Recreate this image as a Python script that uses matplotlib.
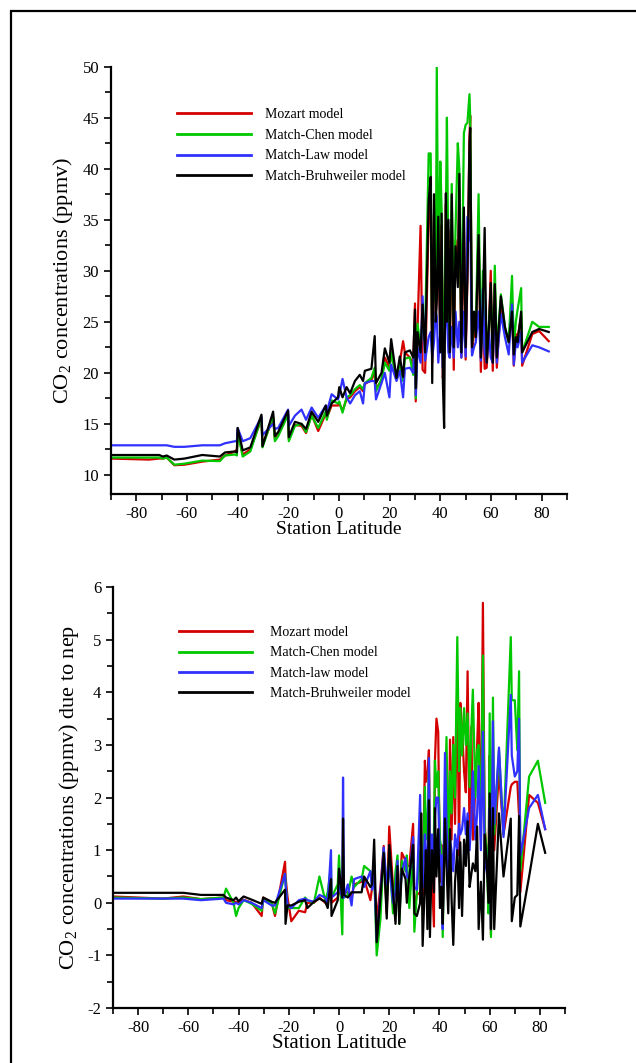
import matplotlib
matplotlib.use("Agg")
import matplotlib.pyplot as plt
import matplotlib.patches as patches
from matplotlib.ticker import MultipleLocator

plt.rcParams['font.family'] = ['Liberation Serif', 'DejaVu Serif']
plt.rcParams['mathtext.fontset'] = 'custom'
plt.rcParams['mathtext.rm'] = 'Liberation Serif'
plt.rcParams['axes.unicode_minus'] = False

# ---------------- top panel: total CO2 ----------------
lat_top = [-90, -75, -71, -69.5, -68, -65, -61, -54, -47, -45, -41, -40.3, -40, -38, -35,
           -30.6, -30.2, -26, -25.3, -24, -20.1, -19.8, -17.4, -14.8, -13, -10.8, -8.2, -5.2, -4.8,
           -2.9, -0.4, 0.1, 1.4, 3, 4.4, 6.3, 8.2, 9.5, 10.2, 12.8, 14.1, 14.6, 16.8, 18.1, 19.9,
           20.6, 22.7, 24.0, 25.3, 26.0, 28.0, 29.3, 30.0, 30.3, 31.0, 32.2, 33.0, 34.0, 35.4,
           36.2, 36.8, 37.5, 38.2, 38.6, 39.2, 40.0, 40.5, 41.0, 41.5, 42.2, 42.6, 43.2, 43.7,
           44.5, 45.3, 46.0, 46.9, 47.5, 48.3, 49.3, 50.0, 50.7, 51.5, 51.8, 52.5, 53.3, 54.0,
           55.1, 56.0, 56.8, 57.5, 58.3, 59.2, 59.9, 60.7, 61.5, 62.3, 63.9, 65.5, 67.0, 68.3,
           69.0, 69.8, 70.5, 71.9, 72.3, 76.3, 79.0, 82.8]

mozart_top = [11.6, 11.5, 11.6, 11.6, 11.7, 10.95, 11.0, 11.3, 11.5, 11.9, 12.3, 12.5, 14.4, 12.0, 12.5,
              15.5, 12.9, 15.6, 13.5, 13.9, 16.0, 13.5, 14.9, 14.8, 14.1, 15.9, 14.3, 16.0, 15.6,
              16.8, 16.8, 17.0, 16.3, 17.4, 17.6, 18.2, 18.6, 18.2, 18.9, 19.3, 20.0, 18.5, 19.2, 21.5, 20.5,
              22.0, 19.6, 21.0, 23.1, 22.0, 21.5, 20.8, 26.8, 17.2, 24.2, 34.4, 20.3, 20.0, 35.0,
              37.0, 21.0, 35.5, 25.5, 28.0, 33.0, 23.5, 34.5, 19.5, 21.5, 36.5, 27.0, 34.0, 21.5,
              35.0, 20.3, 33.0, 30.0, 38.0, 21.5, 35.0, 21.3, 29.3, 43.0, 45.2, 22.0, 24.0, 23.5,
              34.0, 20.1, 27.0, 20.4, 20.5, 24.5, 30.0, 20.2, 28.5, 20.5, 27.0, 24.0, 23.5, 26.0,
              20.7, 23.8, 23.5, 25.5, 20.7, 23.8, 24.1, 23.1]

chen_top = [11.7, 11.7, 11.7, 11.6, 11.7, 11.0, 11.1, 11.4, 11.35, 11.9, 12.0, 11.9, 14.2, 11.8, 12.3,
            15.6, 12.7, 15.8, 13.3, 13.8, 15.9, 13.3, 14.8, 15.0, 14.2, 15.8, 14.6, 16.2, 15.4,
            17.3, 17.0, 17.2, 16.1, 17.6, 17.8, 18.4, 18.8, 18.4, 19.0, 19.5, 20.5, 18.2, 19.4, 21.0, 20.2,
            22.0, 19.4, 21.0, 19.2, 21.4, 21.5, 19.8, 24.5, 17.5, 24.8, 22.5, 25.0, 24.0, 41.5,
            41.5, 22.0, 32.0, 27.0, 50.0, 30.0, 40.7, 36.0, 23.0, 22.0, 35.8, 45.0, 30.0, 23.0,
            38.5, 25.0, 34.0, 42.5, 40.0, 23.0, 43.5, 44.3, 44.5, 47.3, 45.0, 23.0, 25.0, 24.0,
            37.5, 22.0, 30.0, 22.5, 22.0, 25.0, 27.5, 22.0, 30.5, 22.0, 27.7, 24.5, 23.0, 29.5,
            22.5, 25.0, 26.2, 28.3, 22.0, 25.0, 24.5, 24.5]

law_top = [12.9, 12.9, 12.9, 12.9, 12.9, 12.75, 12.75, 12.9, 12.9, 13.1, 13.3, 13.3, 14.6, 13.3, 13.6,
           15.7, 13.9, 15.0, 14.5, 14.6, 16.4, 14.8, 15.8, 16.4, 15.4, 16.6, 15.6, 16.8, 16.2,
           17.9, 17.4, 17.8, 19.4, 17.6, 17.0, 17.8, 18.2, 17.0, 19.0, 19.2, 19.2, 17.4, 19.0, 20.0, 17.6,
           20.8, 19.2, 20.2, 17.6, 20.4, 20.5, 20.0, 24.0, 17.8, 22.5, 21.0, 27.5, 21.2, 23.5,
           24.0, 21.5, 23.0, 26.0, 25.5, 21.0, 24.0, 23.5, 20.5, 22.0, 27.0, 25.5, 22.0, 21.5,
           24.5, 21.5, 26.0, 22.5, 25.0, 21.5, 26.0, 21.6, 35.3, 33.0, 35.0, 21.7, 22.5, 23.0,
           26.0, 21.2, 28.2, 22.0, 21.0, 24.0, 21.5, 21.0, 27.0, 21.0, 25.8, 23.5, 21.8, 26.7,
           20.8, 23.0, 22.5, 24.0, 21.0, 22.7, 22.5, 22.1]

bruh_top = [11.95, 11.95, 11.95, 11.8, 11.9, 11.5, 11.6, 11.95, 11.8, 12.2, 12.3, 12.2, 14.6, 12.4, 12.7,
            15.9, 12.8, 16.2, 13.8, 14.2, 16.3, 13.7, 15.2, 15.0, 14.5, 16.2, 15.2, 16.8, 15.8,
            17.0, 17.6, 18.6, 17.6, 18.6, 18.0, 19.2, 19.8, 19.2, 20.2, 20.4, 23.6, 19.0, 20.0, 22.4, 21.0,
            23.3, 19.5, 21.6, 19.6, 22.0, 22.2, 21.5, 26.2, 18.5, 24.0, 22.0, 26.7, 22.0, 36.8,
            39.2, 19.0, 37.5, 25.0, 27.0, 35.3, 22.0, 35.6, 19.2, 14.6, 37.6, 25.0, 35.0, 22.0,
            37.5, 22.5, 32.4, 28.4, 39.5, 22.0, 36.2, 22.5, 29.5, 42.5, 44.0, 22.5, 26.0, 23.5,
            33.5, 21.5, 26.5, 34.2, 21.0, 24.5, 28.8, 21.0, 28.7, 21.5, 27.5, 24.5, 23.0, 26.0,
            21.8, 23.5, 23.0, 26.0, 22.0, 24.0, 24.3, 24.0]

labels_top = ["Mozart model", "Match-Chen model", "Match-Law model", "Match-Bruhweiler model"]

# ---------------- bottom panel: CO2 due to nep ----------------
lat_bot = [-90, -80, -70, -62, -55, -46, -45, -42, -41, -40, -38, -34.8, -30.8, -30.2, -26.8,
           -25.5, -21.5, -21.3, -20.5, -19, -16, -13.5, -12.6, -10, -7.8, -5.5, -4.5, -3.2, -3.0,
           -0.5, 0.0, 1.3, 1.6, 2.0, 3.5, 5.0, 6.0, 9.0, 10.0, 12.5, 13.2, 14.0, 15.0, 16.5, 17.8,
           19.0, 20.0, 21.5, 22.5, 23.3, 24.0, 25.0, 26.5, 27.0, 28.0, 29.5, 30.0, 31.0, 32.3,
           32.7, 33.3, 34.2, 34.6, 35.2, 35.8, 36.2, 37.0, 37.8, 38.2, 38.8, 39.5, 40.2, 40.8,
           41.3, 42.2, 42.8, 43.5, 44.2, 44.8, 45.5, 46.2, 47.1, 47.8, 48.3, 49.0, 49.8, 50.5,
           51.2, 52.0, 52.7, 53.3, 54.3, 55.0, 55.6, 56.5, 57.3, 58.0, 58.8, 59.5, 60.0, 60.5,
           61.3, 61.8, 63.7, 65.5, 68.4, 68.8, 70.0, 71.0, 71.7, 72.2, 75.7, 79.2, 82.1]

mozart_bot = [0.12, 0.1, 0.08, 0.12, 0.07, 0.1, 0.05, 0.02, 0.02, 0.0, 0.06, 0.0, -0.25, 0.1, 0.0,
              -0.25, 0.78, 0.5, 0.1, -0.35, -0.15, -0.18, 0.0, 0.0, 0.1, 0.0, 0.05, 0.45, 0.0,
              0.1, 0.2, 0.15, 0.15, 0.2, 0.2, 0.1, 0.35, 0.4, 0.45, 0.05, 0.3, 0.5, -0.3, 0.3, 1.08,
              -0.2, 1.45, 0.3, 0.4, 0.5, 0.0, 0.95, 0.8, 0.7, 0.7, 1.5, -0.1, 0.15, 0.2,
              0.3, 0.15, 2.7, 2.3, 2.4, 2.9, 0.8, 0.5, -0.45, 2.7, 3.5, 3.25, 0.4, 1.1,
              -0.3, 1.5, 2.0, 0.3, 3.1, 1.2, 3.15, 1.5, 4.2, 0.9, 3.8, 3.3, 2.5, 2.1,
              4.4, 1.2, 3.35, 1.2, 2.2, 3.0, 3.8, 1.2, 5.7, 1.5, 0.9, 0.6, 2.8, -0.6,
              2.9, 1.0, 2.5, 1.3, 2.2, 2.25, 2.3, 2.3, 1.65, 0.2, 2.05, 1.9, 1.4]

chen_bot = [0.1, 0.09, 0.08, 0.1, 0.07, 0.1, 0.27, 0.0, -0.25, -0.1, 0.05, -0.02, -0.15, 0.05, 0.0,
            -0.2, 0.55, 0.4, -0.1, -0.1, -0.1, 0.1, 0.05, 0.0, 0.5, 0.05, 0.2, 0.7, 0.1,
            0.35, 0.9, -0.6, 0.35, 0.1, 0.15, 0.5, 0.3, 0.45, 0.7, 0.6, 0.3, 0.6, -1.0, -0.3, 1.0,
            0.0, 0.9, -0.2, 0.6, 0.9, -0.4, 0.8, 0.6, 0.9, -0.1, 0.95, -0.55, 0.2, 1.0,
            0.5, 0.4, 2.2, 1.2, 1.5, 2.5, 0.3, 0.8, 1.3, 2.7, 2.2, 2.5, 1.2, 1.0,
            -0.65, 2.0, 3.15, 1.0, 2.5, 1.7, 3.0, 2.0, 5.05, 2.5, 3.7, 2.8, 3.7, 3.0,
            3.6, 2.2, 3.3, 4.05, 2.0, 2.9, 3.0, 1.5, 4.7, 1.4, 1.0, -0.2, 3.6, -0.65,
            3.9, 1.3, 2.9, 1.3, 5.05, 3.85, 3.85, 2.9, 4.4, 0.6, 2.4, 2.7, 1.9]

law_bot = [0.08, 0.08, 0.08, 0.08, 0.05, 0.08, 0.0, -0.03, 0.0, -0.03, 0.05, 0.0, -0.1, 0.05, -0.05,
           -0.05, 0.55, 0.35, -0.05, -0.1, 0.05, 0.08, 0.05, 0.02, 0.15, 0.1, 0.0, 1.0, 0.1,
           0.2, 0.3, 0.1, 2.38, 0.1, 0.35, -0.05, 0.45, 0.5, 0.3, 0.6, 0.25, 0.6, -0.7, 0.2, 1.05,
           0.35, 0.7, 0.0, 0.2, 0.8, -0.1, 0.6, 0.85, 0.5, 0.45, 1.25, 0.3, 0.25, 2.05,
           0.4, 0.3, 1.3, 0.9, 0.4, 2.75, 0.6, 1.3, 0.4, 1.6, 2.0, 2.0, 0.7, 0.9,
           -0.5, 2.85, 1.5, 0.5, 1.2, 1.0, 0.6, 1.3, 1.0, 1.5, 1.3, 1.4, 1.8, 1.3,
           1.7, 1.0, 1.6, 2.5, 1.2, 1.7, 2.6, 1.0, 3.25, 0.8, 0.6, 0.4, 1.8, -0.5,
           3.45, 1.5, 2.95, 1.25, 3.95, 2.8, 2.4, 2.5, 3.5, 0.9, 1.8, 2.05, 1.4]

bruh_bot = [0.19, 0.19, 0.19, 0.19, 0.15, 0.15, 0.1, 0.05, 0.1, 0.03, 0.12, 0.06, -0.02, 0.1, 0.02,
            0.0, 0.25, -0.4, -0.05, -0.05, 0.02, 0.05, -0.1, 0.02, 0.08, 0.02, -0.1, 0.45, -0.25,
            0.05, 0.65, 0.1, 1.6, 0.15, 0.1, 0.2, 0.2, 0.2, 0.5, 0.3, 0.35, 1.2, -0.75, 0.1, 0.95,
            -0.3, 1.1, 0.2, -0.4, 0.7, -0.4, 0.65, 0.45, 0.0, 0.5, 1.1, -0.2, -0.25, 0.0,
            1.7, -0.82, 0.4, 1.0, -0.5, 1.95, -0.65, 1.0, 0.2, 1.8, 0.5, 1.4, -0.1, 0.3,
            -0.4, 1.6, 0.7, -0.2, 1.4, 0.1, -0.8, 0.4, 1.0, -0.1, 1.15, -0.25, 1.2, 0.7,
            1.55, 0.3, 0.55, 0.75, 0.6, 1.45, -0.5, 0.4, -0.7, 1.3, 0.8, 0.0, 2.08, -0.5,
            1.8, -0.5, 1.7, 0.5, 1.6, -0.35, 0.1, 0.15, 1.65, -0.45, 0.5, 1.5, 0.95]

labels_bot = ["Mozart model", "Match-Chen model", "Match-law model", "Match-Bruhweiler model"]

colors = ['#d40000', '#00c800', '#3030ff', 'black']

fig = plt.figure(figsize=(6.36, 10.63), dpi=100)

# page frame
fig.patches.append(patches.Rectangle((11/636., -0.01), 1.0, 1.01 - 11/1063., transform=fig.transFigure,
                                     fill=False, edgecolor='black', linewidth=1.6))

ax1 = fig.add_axes([0.1745, 0.535, 0.717, 0.4023])
ax2 = fig.add_axes([0.1777, 0.0517, 0.7107, 0.396])


def style(ax):
    for s in ['top', 'right']:
        ax.spines[s].set_visible(False)
    for s in ['left', 'bottom']:
        ax.spines[s].set_linewidth(1.6)
    ax.set_xlim(-90, 90)
    ax.xaxis.set_major_locator(MultipleLocator(20))
    ax.xaxis.set_minor_locator(MultipleLocator(10))
    ax.tick_params(which='major', length=5, width=1.2, labelsize=12, direction='out')
    ax.tick_params(which='minor', length=4, width=1.2, direction='out')
    ax.set_xticks(range(-80, 81, 20))


# top
for vals, c, lab in zip([mozart_top, chen_top, law_top, bruh_top], colors, labels_top):
    ax1.plot(lat_top, vals, color=c, lw=1.6, label=lab)
style(ax1)
ax1.set_ylim(8.1, 50)
ax1.yaxis.set_major_locator(MultipleLocator(5))
ax1.yaxis.set_minor_locator(MultipleLocator(2.5))
ax1.set_yticks(range(10, 51, 5))
ax1.set_ylabel(r'CO$_\mathregular{2}$ concentrations (ppmv)', fontsize=16)
ax1.yaxis.set_label_coords(-0.079, 0.5)
ax1.set_xlabel('Station Latitude', fontsize=14)
ax1.xaxis.set_label_coords(0.5, -0.062)
leg = ax1.legend(loc='upper left', bbox_to_anchor=(0.145, 0.903), frameon=False, fontsize=10,
                 handlelength=5.3, handletextpad=1.0, labelspacing=0.55, borderpad=0, borderaxespad=0)
for h in leg.get_lines():
    h.set_linewidth(2.0)

# bottom
for vals, c, lab in zip([mozart_bot, chen_bot, law_bot, bruh_bot], colors, labels_bot):
    ax2.plot(lat_bot, vals, color=c, lw=1.6, label=lab)
style(ax2)
ax2.set_ylim(-2, 6)
ax2.yaxis.set_major_locator(MultipleLocator(1))
ax2.yaxis.set_minor_locator(MultipleLocator(0.5))
ax2.set_ylabel(r'CO$_\mathregular{2}$ concentrations (ppmv) due to nep', fontsize=16)
ax2.yaxis.set_label_coords(-0.071, 0.5)
ax2.set_xlabel('Station Latitude', fontsize=15)
ax2.xaxis.set_label_coords(0.5, -0.062)
leg = ax2.legend(loc='upper left', bbox_to_anchor=(0.145, 0.907), frameon=False, fontsize=10,
                 handlelength=5.3, handletextpad=1.3, labelspacing=0.52, borderpad=0, borderaxespad=0)
for h in leg.get_lines():
    h.set_linewidth(2.0)

fig.savefig('out.png', dpi=100)
